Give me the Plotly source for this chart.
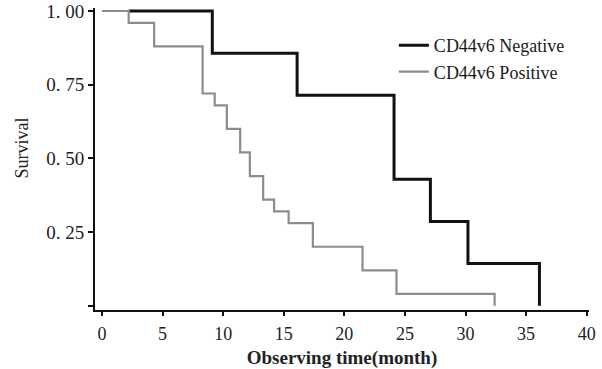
import plotly.graph_objects as go

# Kaplan-Meier step data
neg_time = [2.2, 9.1, 16.1, 24.1, 27.1, 30.2, 36.1]
neg_surv = [1.0, 0.857, 0.714, 0.429, 0.286, 0.143, 0.0]

pos_time = [0, 2.2, 4.3, 8.3, 9.3, 10.3, 11.4, 12.2, 13.3, 14.2, 15.4, 17.4, 21.5, 24.3, 32.4]
pos_surv = [1.0, 0.96, 0.88, 0.72, 0.68, 0.60, 0.52, 0.44, 0.36, 0.32, 0.28, 0.20, 0.12, 0.04, 0.0]

x_ticks = [0, 5, 10, 15, 20, 25, 30, 35, 40]
y_ticks = [0, 0.25, 0.50, 0.75, 1.00]
y_ticktext = ["", "0. 25", "0. 50", "0. 75", "1. 00"]

FONT = "Liberation Serif, Times New Roman, serif"

fig = go.Figure()
fig.add_trace(go.Scatter(
    x=neg_time, y=neg_surv, mode="lines", line_shape="hv",
    line=dict(color="#111111", width=3), name="CD44v6 Negative",
    legendgroup="a"))
fig.add_trace(go.Scatter(
    x=pos_time, y=pos_surv, mode="lines", line_shape="hv",
    line=dict(color="#8c8c8c", width=2.2), name="CD44v6 Positive",
    legendgroup="b"))

fig.update_layout(
    width=602, height=369,
    margin=dict(l=95, r=13, t=8, b=59, autoexpand=False),
    paper_bgcolor="white", plot_bgcolor="white",
    font=dict(family=FONT, size=18, color="#222222"),
    showlegend=True,
    legend=dict(x=0.605, y=0.937, xanchor="left", yanchor="top",
                bgcolor="rgba(0,0,0,0)", tracegroupgap=0,
                font=dict(family=FONT, size=18, color="#1a1a1a")),
    xaxis=dict(range=[-0.58, 40.19], tickvals=x_ticks, automargin=False,
               showline=True, linecolor="#111111", linewidth=2,
               ticks="outside", ticklen=4, tickwidth=2, tickcolor="#111111",
               showgrid=False, zeroline=False,
               ticklabelstandoff=2,
               title=dict(text="<b>Observing time(month)</b>", standoff=8,
                          font=dict(family=FONT, size=19, color="#222222"))),
    yaxis=dict(range=[-0.0146, 1.0102], tickvals=y_ticks, ticktext=y_ticktext,
               automargin=False, tickfont=dict(size=19),
               showline=True, linecolor="#111111", linewidth=2,
               ticks="outside", ticklen=5, tickwidth=2, tickcolor="#111111",
               showgrid=False, zeroline=False),
    annotations=[dict(text="Survival", xref="paper", yref="paper",
                      x=-0.148, y=0.538, xanchor="center", yanchor="middle",
                      textangle=-90, showarrow=False,
                      font=dict(family=FONT, size=18, color="#222222"))],
)

fig.write_html("out.html",
               config={"displayModeBar": False},
               post_script="document.body.style.margin='0';"
                           "document.body.style.overflow='hidden';")
